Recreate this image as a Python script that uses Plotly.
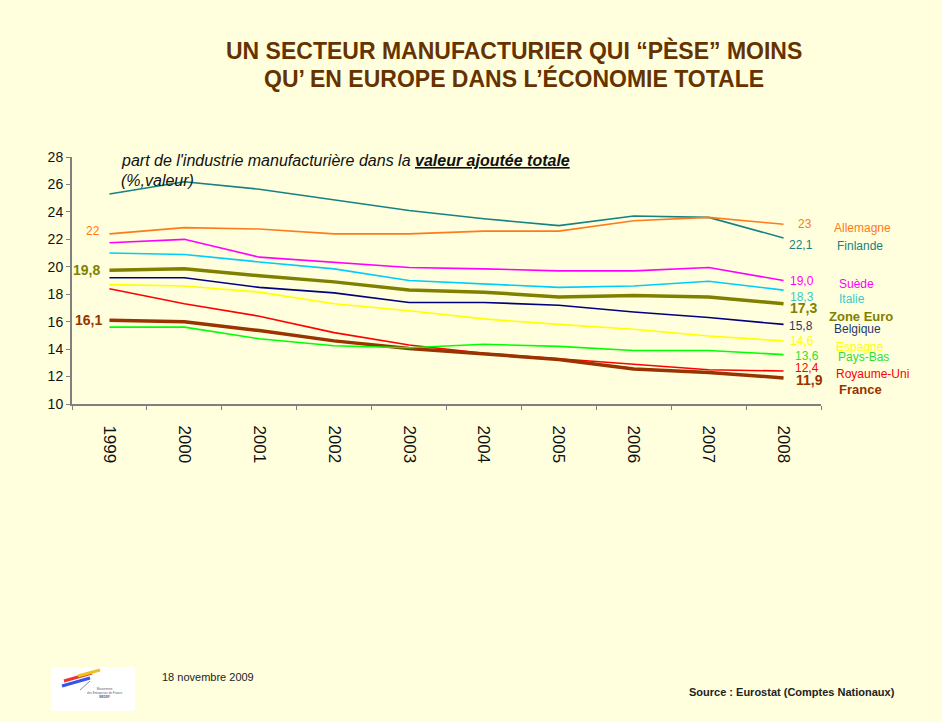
import plotly.graph_objects as go

years = ["1999", "2000", "2001", "2002", "2003", "2004", "2005", "2006", "2007", "2008"]

finlande = [25.3, 26.2, 25.65, 24.9, 24.1, 23.5, 23.0, 23.7, 23.6, 22.1]
allemagne = [22.4, 22.85, 22.75, 22.4, 22.4, 22.6, 22.6, 23.35, 23.6, 23.1]
suede = [21.75, 22.0, 20.7, 20.3, 19.95, 19.85, 19.7, 19.7, 19.95, 19.0]
italie = [21.0, 20.9, 20.35, 19.85, 19.0, 18.75, 18.5, 18.6, 18.95, 18.3]
zone_euro = [19.75, 19.85, 19.35, 18.9, 18.3, 18.15, 17.8, 17.9, 17.8, 17.3]
belgique = [19.2, 19.2, 18.5, 18.1, 17.4, 17.4, 17.2, 16.7, 16.3, 15.8]
espagne = [18.7, 18.6, 18.15, 17.3, 16.8, 16.2, 15.8, 15.45, 14.95, 14.6]
royaume_uni = [18.4, 17.3, 16.4, 15.2, 14.3, 13.7, 13.3, 12.9, 12.5, 12.4]
france = [16.1, 16.0, 15.35, 14.6, 14.05, 13.65, 13.25, 12.55, 12.3, 11.9]
pays_bas = [15.6, 15.6, 14.75, 14.25, 14.1, 14.35, 14.2, 13.9, 13.9, 13.6]

names = ["Finlande", "Allemagne", "Suède", "Italie", "Zone Euro", "Belgique",
         "Espagne", "Royaume-Uni", "France", "Pays-Bas"]
series = [finlande, allemagne, suede, italie, zone_euro, belgique,
          espagne, royaume_uni, france, pays_bas]
end_labels = ["22,1", "23", "19,0", "18,3", "17,3", "15,8", "14,6", "12,4", "11,9", "13,6"]

line_colors = {
    "Finlande": "#168282", "Allemagne": "#ff7a1a", "Suède": "#ff00ff",
    "Italie": "#00ccff", "Zone Euro": "#808000", "Belgique": "#000080",
    "Espagne": "#ffff00", "Royaume-Uni": "#ff0000", "France": "#993300",
    "Pays-Bas": "#00ff00",
}
text_colors = {
    "Finlande": "#1a8080", "Allemagne": "#ff7a1a", "Suède": "#ff00ff",
    "Italie": "#33cccc", "Zone Euro": "#808000", "Belgique": "#1f3a70",
    "Espagne": "#ffff00", "Royaume-Uni": "#ff0000", "France": "#993300",
    "Pays-Bas": "#33dd33",
}
widths = {"Zone Euro": 3.5, "France": 3.5}

# label placement in pixels
val_pos = {
    "Allemagne": (805, 224), "Finlande": (801, 245), "Suède": (802, 281),
    "Italie": (802, 297), "Zone Euro": (803, 308), "Belgique": (801, 326),
    "Espagne": (802, 341), "Pays-Bas": (807, 356), "Royaume-Uni": (807, 368),
    "France": (809, 380),
}
name_pos = {
    "Allemagne": (832, 228), "Finlande": (835, 246), "Suède": (837, 284),
    "Italie": (837, 299), "Zone Euro": (827, 316), "Belgique": (832, 329),
    "Espagne": (834, 347), "Pays-Bas": (836, 357), "Royaume-Uni": (834, 374),
    "France": (837, 389),
}

W, H = 942, 722
L, R, T, B = 72, 821, 157, 404

def px(x):
    return (x - L) / (R - L)

def py(y):
    return 1 - (y - T) / (B - T)

FONT = "Liberation Sans, Arial"

fig = go.Figure()
for n, s in zip(names, series):
    fig.add_trace(go.Scatter(
        x=years, y=s, mode="lines", name=n,
        line=dict(color=line_colors[n], width=widths.get(n, 1.6)),
        hoverinfo="x+y+name",
    ))

ann = []
bold = {"Zone Euro", "France"}
spaced = {"Zone Euro": "Z o n e  E u r o", "France": "F r a n c e"}
for n, lab in zip(names, end_labels):
    vx, vy = val_pos[n]
    nx, ny = name_pos[n]
    b = n in bold
    ann.append(dict(xref="paper", yref="paper", x=px(vx), y=py(vy),
                    text=("<b>%s</b>" % lab) if b else lab, showarrow=False,
                    xanchor="center", yanchor="middle",
                    font=dict(family=FONT, size=14 if b else 12,
                              color=text_colors[n])))
    ann.append(dict(xref="paper", yref="paper", x=px(nx), y=py(ny),
                    text=("<b>%s</b>" % n) if b else n, showarrow=False,
                    xanchor="left", yanchor="middle",
                    font=dict(family=FONT, size=13 if b else 12,
                              color=text_colors[n])))

# left start labels
ann.append(dict(xref="paper", yref="paper", x=px(93), y=py(231), text="22",
                showarrow=False, xanchor="center", yanchor="middle",
                font=dict(family=FONT, size=12, color="#ff7a1a")))
ann.append(dict(xref="paper", yref="paper", x=px(86), y=py(270), text="<b>19,8</b>",
                showarrow=False, xanchor="center", yanchor="middle",
                font=dict(family=FONT, size=14, color="#808000")))
ann.append(dict(xref="paper", yref="paper", x=px(88), y=py(320), text="<b>16,1</b>",
                showarrow=False, xanchor="center", yanchor="middle",
                font=dict(family=FONT, size=14, color="#993300")))

# subtitle inside the plot
ann.append(dict(xref="paper", yref="paper", x=px(119), y=py(160),
                text="<i>part de l'industrie manufacturière dans la </i><b><i><u>valeur ajoutée totale</u></i></b>",
                showarrow=False, xanchor="left", yanchor="middle",
                font=dict(family=FONT, size=16, color="#111111")))
ann.append(dict(xref="paper", yref="paper", x=px(119), y=py(180),
                text="<i>(%,valeur)</i>",
                showarrow=False, xanchor="left", yanchor="middle",
                font=dict(family=FONT, size=16, color="#111111")))

# title
ann.append(dict(xref="paper", yref="paper", x=px(514), y=py(50),
                text="<b>UN SECTEUR MANUFACTURIER QUI “PÈSE” MOINS</b>",
                showarrow=False, xanchor="center", yanchor="middle",
                font=dict(family=FONT, size=23, color="#663300")))
ann.append(dict(xref="paper", yref="paper", x=px(514), y=py(79),
                text="<b>QU’ EN EUROPE DANS L’ÉCONOMIE TOTALE</b>",
                showarrow=False, xanchor="center", yanchor="middle",
                font=dict(family=FONT, size=23, color="#663300")))

# footer
ann.append(dict(xref="paper", yref="paper", x=px(160), y=py(677),
                text="18 novembre 2009", showarrow=False, xanchor="left", yanchor="middle",
                font=dict(family=FONT, size=11, color="#222222")))
ann.append(dict(xref="paper", yref="paper", x=px(897), y=py(692),
                text="<b>Source : Eurostat (Comptes Nationaux)</b>", showarrow=False,
                xanchor="right", yanchor="middle",
                font=dict(family=FONT, size=11, color="#222222")))
ann.append(dict(xref="paper", yref="paper", x=px(105), y=py(693),
                text="Mouvement<br>des Entreprises de France<br><b>MEDEF</b>", showarrow=False,
                xanchor="center", yanchor="middle",
                font=dict(family=FONT, size=3, color="#556080")))

shapes = [
    dict(type="rect", xref="paper", yref="paper", x0=px(51), x1=px(135), y0=py(667), y1=py(711),
         fillcolor="#ffffff", line=dict(width=0), layer="below"),
    dict(type="line", xref="paper", yref="paper", x0=px(62), x1=px(90), y0=py(686), y1=py(678),
         line=dict(color="#3355ee", width=3)),
    dict(type="line", xref="paper", yref="paper", x0=px(64), x1=px(92), y0=py(681), y1=py(673),
         line=dict(color="#ee3333", width=3)),
    dict(type="line", xref="paper", yref="paper", x0=px(78), x1=px(100), y0=py(676), y1=py(670),
         line=dict(color="#f0c020", width=3)),
    dict(type="line", xref="paper", yref="paper", x0=px(80), x1=px(90), y0=py(690), y1=py(681),
         line=dict(color="#8888aa", width=1)),
]

fig.update_layout(
    width=W, height=H,
    margin=dict(l=L, r=W - R, t=T, b=H - B, pad=0),
    paper_bgcolor="#ffffdd", plot_bgcolor="#ffffdd",
    showlegend=False,
    annotations=ann, shapes=shapes,
    font=dict(family=FONT, color="#111111"),
)
fig.update_xaxes(
    type="category", tickangle=90, ticks="outside", tickson="boundaries",
    ticklen=4, tickcolor="#808080", showline=True, linecolor="#808080", linewidth=2,
    showgrid=False, zeroline=False, ticklabelstandoff=16,
    tickfont=dict(family=FONT, size=17, color="#111111"),
    range=[-0.5, 9.5],
)
fig.update_yaxes(
    range=[10, 28], dtick=2, ticks="outside", ticklen=4, tickcolor="#808080",
    showline=True, linecolor="#808080", linewidth=2, showgrid=False, zeroline=False,
    tickfont=dict(family=FONT, size=14, color="#111111"),
)

fig.write_html("out.html", config={"displayModeBar": False},
               post_script="document.body.style.margin='0';")
